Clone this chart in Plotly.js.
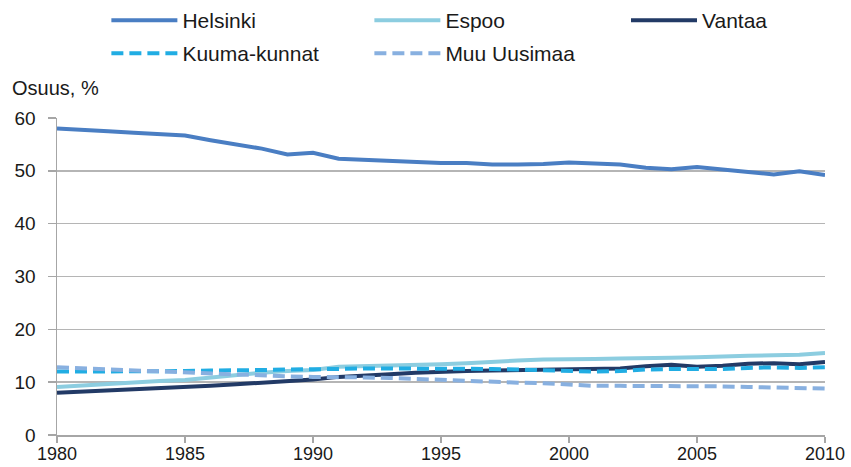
<!DOCTYPE html>
<html>
<head>
<meta charset="utf-8">
<script src="https://cdn.plot.ly/plotly-3.0.1.min.js"></script>
<style>
html,body{margin:0;padding:0;background:#fff;}
#chart{width:851px;height:467px;}
</style>
</head>
<body>
<div id="chart"></div>
<script>
var years = [1980,1981,1982,1983,1984,1985,1986,1987,1988,1989,1990,1991,1992,1993,1994,1995,1996,1997,1998,1999,2000,2001,2002,2003,2004,2005,2006,2007,2008,2009,2010];
var helsinki = [58.0,57.8,57.5,57.2,56.9,56.7,55.8,55.0,54.2,53.1,53.4,52.3,52.1,52.0,51.7,51.5,51.5,51.2,51.2,51.3,51.6,51.4,51.2,50.6,50.3,50.7,50.3,49.8,49.3,49.9,49.2];
var espoo = [9.1,9.4,9.7,10.0,10.2,10.4,10.9,11.4,11.8,12.1,12.3,12.9,13.0,13.1,13.2,13.4,13.6,13.9,14.1,14.3,14.3,14.4,14.5,14.5,14.6,14.7,14.9,15.0,15.1,15.2,15.5];
var vantaa = [8.0,8.2,8.4,8.6,8.8,9.0,9.3,9.6,9.9,10.2,10.5,11.0,11.2,11.5,11.8,12.0,12.1,12.2,12.3,12.4,12.4,12.5,12.6,13.0,13.3,12.9,13.1,13.5,13.6,13.4,13.8];
var kuuma = [12.0,12.0,12.0,12.0,12.1,12.1,12.2,12.2,12.3,12.4,12.4,12.5,12.6,12.6,12.6,12.6,12.6,12.5,12.4,12.3,12.2,12.0,12.1,12.4,12.5,12.5,12.5,12.7,12.8,12.7,12.8];
var muu = [12.8,12.6,12.4,12.2,12.0,11.9,11.6,11.4,11.2,11.1,11.0,11.0,10.9,10.8,10.6,10.5,10.3,10.1,9.9,9.8,9.6,9.3,9.3,9.3,9.3,9.3,9.2,9.1,9.0,8.8,8.8];
var seriesNames = ["Helsinki","Espoo","Vantaa","Kuuma-kunnat","Muu Uusimaa"];
var yTitle = "Osuus, %";

var FONT = "Liberation Sans, Arial, sans-serif";
var traces = [
  {x: years, y: helsinki, name: seriesNames[0], mode: "lines", legend: "legend", line: {color: "#4a7ec3", width: 4}},
  {x: years, y: espoo, name: seriesNames[1], mode: "lines", legend: "legend", line: {color: "#8ccde0", width: 4}},
  {x: years, y: vantaa, name: seriesNames[2], mode: "lines", legend: "legend3", line: {color: "#223a66", width: 4}},
  {x: years, y: kuuma, name: seriesNames[3], mode: "lines", legend: "legend2", line: {color: "#21ade3", width: 4, dash: "12px,6px"}},
  {x: years, y: muu, name: seriesNames[4], mode: "lines", legend: "legend2", line: {color: "#88b0e0", width: 4, dash: "12px,6px"}}
];
var legendBase = {
  orientation: "h", xref: "container", yref: "container",
  xanchor: "left", yanchor: "top",
  entrywidth: 182, entrywidthmode: "pixels", itemwidth: 66,
  font: {family: FONT, size: 21, color: "#1a1a1a"},
  bgcolor: "rgba(0,0,0,0)", traceorder: "normal"
};
var legend1 = Object.assign({}, legendBase, {x: 0.125, y: 1.0});
var legend3 = Object.assign({}, legendBase, {x: 626/851, y: 1.0, entrywidth: 90});
var legend2 = Object.assign({}, legendBase, {x: 0.125, y: 1 - 33/467});
var layout = {
  width: 851, height: 467,
  margin: {l: 57, r: 26, t: 118, b: 32},
  paper_bgcolor: "#fff", plot_bgcolor: "#fff",
  font: {family: FONT, color: "#1a1a1a", size: 19},
  showlegend: true,
  legend: legend1,
  legend2: legend2,
  legend3: legend3,
  xaxis: {
    range: [1980, 2010], tickmode: "linear", tick0: 1980, dtick: 5,
    showgrid: false, zeroline: false, showline: true, linecolor: "#a6a6a6", linewidth: 1.5,
    ticks: "outside", ticklen: 6, tickcolor: "#a6a6a6", tickwidth: 1.5,
    ticklabelstandoff: -4,
    tickfont: {family: FONT, size: 18, color: "#1a1a1a"}, fixedrange: true
  },
  yaxis: {
    range: [0, 60], tickmode: "linear", tick0: 0, dtick: 10,
    showgrid: true, gridcolor: "#b5b5b5", gridwidth: 1.5, zeroline: false,
    showline: true, linecolor: "#a6a6a6", linewidth: 1.5,
    ticks: "outside", ticklen: 8, tickcolor: "#a6a6a6", tickwidth: 1.5,
    ticklabelstandoff: 8,
    tickfont: {family: FONT, size: 19, color: "#1a1a1a"}, fixedrange: true
  },
  annotations: [{
    text: yTitle, xref: "paper", yref: "paper", x: (10 - 57) / 768, y: (435 - 88) / 317,
    xanchor: "left", yanchor: "middle", showarrow: false,
    font: {family: FONT, size: 20, color: "#1a1a1a"}
  }]
};
Plotly.newPlot("chart", traces, layout, {displayModeBar: false, staticPlot: true});
</script>
</body>
</html>
